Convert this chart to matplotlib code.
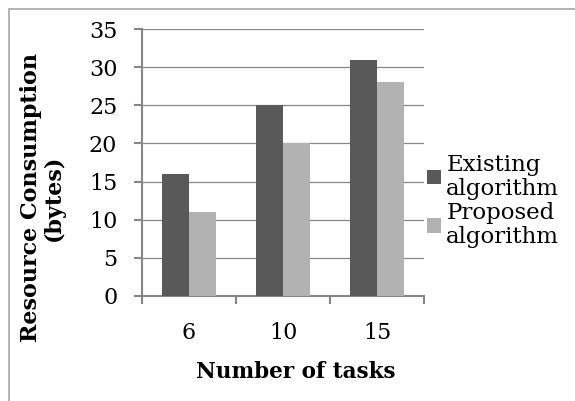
import numpy as np
import matplotlib
matplotlib.use('Agg')
from matplotlib import pyplot as plt
from matplotlib.patches import Rectangle

# Data
tasks = ['6', '10', '15']
existing = [16, 25, 31]
proposed = [11, 20, 28]
series_names = ['Existing\nalgorithm', 'Proposed\nalgorithm']
y_ticks = [0, 5, 10, 15, 20, 25, 30, 35]

dark = '#595959'
light = '#b2b2b2'
axis_gray = '#868686'

plt.rcParams['font.family'] = ['DejaVu Serif']

fig = plt.figure(figsize=(5.75, 4.01), dpi=100)
# light border around the chart (only left and top visible)
fig.patches.append(Rectangle((9 / 575, -0.05), 1.1, 1 - 8.5 / 401 + 0.05,
                             transform=fig.transFigure, fill=False,
                             edgecolor='#a6a6a6', linewidth=1.2))

ax = fig.add_axes([142 / 575, 105 / 401, 282 / 575, 267 / 401])

x = np.arange(len(tasks))
w = 0.287
ax.bar(x - w / 2, existing, w, color=dark, label=series_names[0], zorder=3)
ax.bar(x + w / 2, proposed, w, color=light, label=series_names[1], zorder=3)

ax.set_xlim(-0.5, 2.5)
ax.set_ylim(0, 35)
ax.set_yticks(y_ticks)
ax.yaxis.grid(True, color=axis_gray, linewidth=0.9, zorder=0)

ax.set_xticks(x)
ax.set_xticklabels(tasks)
ax.set_xticks([-0.5, 0.5, 1.5, 2.5], minor=True)
ax.tick_params(axis='x', which='major', length=0, pad=19, labelsize=16)
ax.tick_params(axis='x', which='minor', length=5.8, width=1.5, color=axis_gray)
ax.tick_params(axis='y', length=5.8, width=1.5, color=axis_gray, labelsize=16, pad=12)

for s in ['top', 'right']:
    ax.spines[s].set_visible(False)
for s in ['left', 'bottom']:
    ax.spines[s].set_color(axis_gray)
    ax.spines[s].set_linewidth(1.5)

fig.text(296 / 575, 1 - 372 / 401, 'Number of tasks',
         ha='center', va='center', fontsize=15.5, fontweight='bold')
fig.text(42 / 575, 1 - 198 / 401, 'Resource Consumption\n(bytes)', rotation=90,
         ha='center', va='center', fontsize=16, fontweight='bold',
         multialignment='center', linespacing=1.05)

leg = ax.legend(loc='center left', bbox_to_anchor=(1.01, 0.356), frameon=False,
                fontsize=16.5, handlelength=0.6, handleheight=0.6, handletextpad=0.25,
                labelspacing=0.12, borderaxespad=0.0, borderpad=0.0)
for t in leg.get_texts():
    t.set_linespacing(1.12)

fig.savefig('out.png', dpi=100)
